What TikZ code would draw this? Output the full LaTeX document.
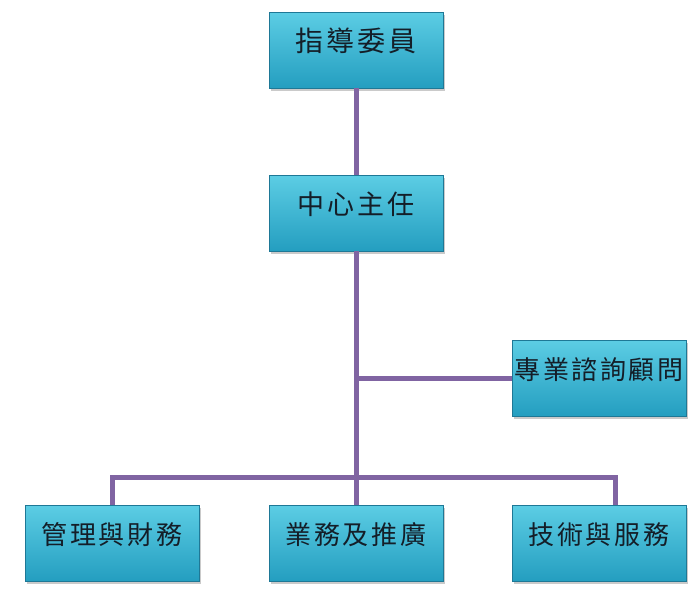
\documentclass[tikz,border=0pt]{standalone}
\usepackage{fontspec}
\newfontfamily\cjk[LetterSpace=10]{Noto Sans CJK TC}
\usetikzlibrary{positioning, shadows}
\definecolor{boxtop}{RGB}{92,205,228}
\definecolor{boxbottom}{RGB}{36,158,192}
\definecolor{boxedge}{RGB}{30,120,150}
\definecolor{linkpurple}{RGB}{128,100,162}
\definecolor{inktext}{RGB}{20,30,40}

\begin{document}
\begin{tikzpicture}[x=1pt, y=-1pt,
  orgbox/.style={draw=boxedge, line width=0.6pt, top color=boxtop, bottom color=boxbottom,
    minimum width=174pt, minimum height=76pt, inner sep=0pt,
    text=inktext, font=\cjk\fontsize{26}{26}\selectfont,
    text height=21pt, text depth=18pt,
    drop shadow={shadow xshift=2pt, shadow yshift=-3pt, fill=black!35, opacity=0.6}},
  orgline/.style={draw=linkpurple, line width=5pt}]
  \useasboundingbox (0,0) rectangle (700,598);
  % boxes
  \node[orgbox, font=\cjk\fontsize{28}{28}\selectfont] (guide) at (356,50) {指導委員};
  \node[orgbox, font=\cjk\fontsize{27}{27}\selectfont] (director) at (356,213) {中心主任};
  \node[orgbox] (advisor) at (599,378) {專業諮詢顧問};
  \node[orgbox] (admin) at (112,543) {管理與財務};
  \node[orgbox] (biz) at (356,543) {業務及推廣};
  \node[orgbox] (tech) at (599,543) {技術與服務};
  % connectors
  \coordinate (bus) at (356,477);
  \coordinate (techtop) at (615,0 |- tech.north);
  \draw[orgline] (guide.south) -- (director.north);
  \draw[orgline] (director.south) -- (biz.north);
  \draw[orgline] (advisor.west) -- (advisor.west -| director.south);
  \draw[orgline] (admin.north) |- (bus) -| (techtop);
\end{tikzpicture}
\end{document}
